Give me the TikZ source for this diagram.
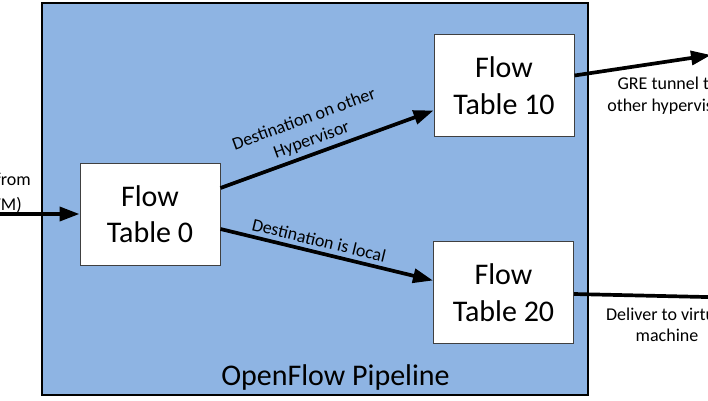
\documentclass[tikz,border=0pt]{standalone}
\usepackage{fontspec}
\setmainfont{Carlito}
\usetikzlibrary{arrows.meta}
\definecolor{pipeblue}{HTML}{8EB4E3}
\definecolor{boxedge}{HTML}{404040}
\begin{document}
\begin{tikzpicture}[x=1pt,y=-1pt,
  tablebox/.style={draw=boxedge,line width=1pt,fill=white,minimum width=140pt,minimum height=102pt,
    align=center,inner sep=0pt,font=\fontsize{30}{36.6}\selectfont},
  flowarrow/.style={line width=3.7pt,-{Triangle[length=20pt,width=14pt]}},
  edgelabel/.style={font=\fontsize{18}{22}\selectfont,align=center,inner sep=4pt},
  sidelabel/.style={font=\fontsize{18}{21}\selectfont,align=center,inner sep=0pt}]
\useasboundingbox (0,0) rectangle (708,400);
\clip (0,0) rectangle (708,400);
% pipeline container
\node[draw=black,line width=2pt,fill=pipeblue,minimum width=546pt,minimum height=392pt,inner sep=0pt] (pipe) at (315,199) {};
\node[font=\fontsize{30}{36}\selectfont,anchor=base,inner sep=0pt] (pipelabel) at (335.5,385) {OpenFlow Pipeline};
% tables
\node[tablebox] (ft0) at (150,214) {Flow\\Table 0};
\node[tablebox] (ft10) at (504,85.5) {Flow\\Table 10};
\node[tablebox] (ft20) at (503.5,292.5) {Flow\\Table 20};
% free ends
\coordinate (in) at (-2,214);
\coordinate (outgre) at (711,55);
\coordinate (outvm) at (750,298);
% input
\node[sidelabel,anchor=base east] (inlab1) at (31,185) {from};
\node[sidelabel,anchor=base east] (inlab2) at (22,210) {(VM)};
\draw[flowarrow] (in) -- (ft0.west);
% internal arrows
\draw[flowarrow] ([yshift=26pt]ft0.east) -- node[edgelabel,sloped,above,pos=0.45] {Destination on other\\Hypervisor} ([yshift=-25pt]ft10.west);
\draw[flowarrow] ([yshift=-15pt]ft0.east) -- node[edgelabel,sloped,above,pos=0.45] {Destination is local} ([yshift=12pt]ft20.west);
% outputs
\draw[flowarrow] ([yshift=10pt]ft10.east) -- (outgre);
\draw[flowarrow] ([yshift=-1.5pt]ft20.east) -- (outvm);
\node[sidelabel,anchor=base] (grelab1) at (668,89) {GRE tunnel to};
\node[sidelabel,anchor=base] (grelab2) at (668,111) {other hypervisor};
\node[sidelabel,anchor=base] (vmlab1) at (667,320) {Deliver to virtual};
\node[sidelabel,anchor=base] (vmlab2) at (667,341) {machine};
\end{tikzpicture}
\end{document}
